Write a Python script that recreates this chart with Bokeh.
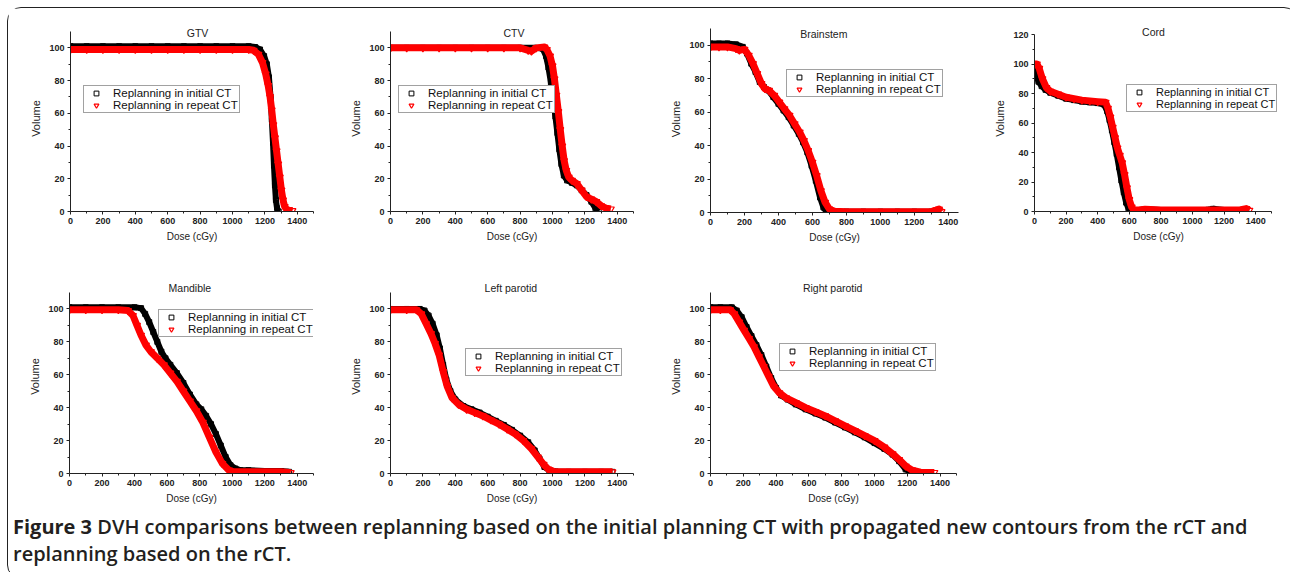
from bokeh.plotting import figure
from bokeh.layouts import row, column
from bokeh.models import (Range1d, FixedTicker, Legend, LegendItem, Label, Div)
from bokeh.embed import file_html
from bokeh.resources import INLINE

# ---------------- data ----------------
series_names = ["Replanning in initial CT", "Replanning in repeat CT"]
x_ticks = [0, 200, 400, 600, 800, 1000, 1200, 1400]

# GTV
gtv_dose_init = [0, 100, 200, 300, 400, 500, 600, 700, 800, 900, 1000, 1100,
                 1140, 1170, 1195, 1212, 1225, 1235, 1243, 1250, 1256, 1262, 1268, 1275, 1285]
gtv_vol_init = [101, 101, 101, 101, 101, 101, 101, 101, 101, 101, 101, 101,
                100.5, 99, 95, 90, 82, 70, 56, 42, 28, 16, 7, 2, 0]
gtv_dose_rep = [0, 100, 200, 300, 400, 500, 600, 700, 800, 900, 1000, 1100,
                1130, 1160, 1185, 1205, 1220, 1232, 1242, 1252, 1262, 1272, 1282, 1292,
                1302, 1312, 1322, 1335, 1350, 1370]
gtv_vol_rep = [99, 99, 99, 99, 99, 99, 99, 99, 99, 99, 99, 99,
               98.5, 96, 91, 84, 77, 70, 62, 53, 45, 37, 29, 21, 13, 7, 3, 1.2, 0.8, 0.5]

# CTV
ctv_dose_init = [0, 100, 200, 300, 400, 500, 600, 700, 800, 900,
                 940, 960, 975, 990, 1005, 1018, 1030, 1042, 1055, 1070, 1090, 1120,
                 1150, 1180, 1210, 1240, 1265, 1285]
ctv_vol_init = [100, 100, 100, 100, 100, 100, 100, 100, 100, 100,
                99.5, 95, 88, 79, 68, 58, 48, 38, 29, 22, 19, 17.5, 16, 13, 10, 6, 2, 0]
ctv_dose_rep = [0, 100, 200, 300, 400, 500, 600, 700, 800,
                850, 870, 900, 950, 965, 985, 1000, 1012, 1024, 1036, 1048, 1060, 1072,
                1085, 1100, 1120, 1150, 1180, 1210, 1240, 1270, 1300, 1330, 1360]
ctv_vol_rep = [100, 100, 100, 100, 100, 100, 100, 100, 100,
               98.5, 98, 100, 100.5, 99, 95, 89, 81, 71, 61, 50, 40, 31, 25, 21, 19, 17,
               13, 9, 7.5, 6, 3.5, 2, 1.5]

# Brainstem
bs_dose_init = [0, 50, 100, 150, 190, 215, 240, 265, 290, 315, 340, 370, 400, 430, 460,
                490, 520, 545, 570, 595, 620, 645, 665, 680, 700, 800, 900, 1000, 1100,
                1200, 1300, 1340]
bs_vol_init = [101, 101, 101, 100.5, 99, 95, 89, 84, 78, 75, 73, 69, 65, 61, 57,
               52, 47, 42, 36, 28, 19, 9, 3, 0.8, 0.5, 0.5, 0.5, 0.5, 0.5, 0.5, 0.5, 1]
bs_dose_rep = [0, 50, 100, 150, 170, 200, 225, 250, 275, 300, 320, 345, 375, 405, 435,
               465, 495, 525, 550, 575, 600, 625, 650, 675, 700, 730, 800, 900, 1000,
               1100, 1200, 1300, 1330, 1345, 1360]
bs_vol_rep = [99, 99, 99, 98, 97, 97.5, 94, 89, 83, 77, 74, 73, 70, 66, 62,
              58, 53, 48, 43, 37, 30, 22, 13, 6, 2, 0.7, 0.5, 0.5, 0.5,
              0.5, 0.5, 0.5, 1.5, 2, 0.5]

# Cord
cord_dose_init = [0, 10, 25, 45, 70, 100, 150, 200, 250, 300, 350, 400, 440, 460, 475,
                  490, 505, 520, 535, 550, 565, 580, 595, 610, 650, 700, 800, 900, 1000,
                  1100, 1130, 1200, 1300, 1340]
cord_vol_init = [100, 93, 88, 85, 82.5, 80.5, 78.5, 76.5, 75.5, 74.5, 74, 73.5, 72.5, 68, 62,
                 55, 47, 39, 30, 21, 13, 6, 2, 0.5, 0.8, 1.5, 1, 1, 1,
                 1.2, 1.8, 1, 1, 1.5]
cord_dose_rep = [0, 15, 30, 50, 75, 100, 150, 200, 250, 300, 350, 400, 450, 465, 480,
                 495, 510, 525, 540, 555, 570, 585, 600, 615, 630, 660, 700, 800, 900,
                 1000, 1100, 1200, 1300, 1340, 1360]
cord_vol_rep = [100, 100, 97, 90, 84, 81.5, 79.5, 77.5, 76.5, 75.5, 75, 74.5, 74, 70, 64,
                57, 50, 43, 38, 33, 25, 16, 8, 3, 1, 1, 1.5, 1, 1,
                1, 1, 1, 1, 2, 0.8]

# Mandible
man_dose_init = [0, 100, 200, 300, 400, 440, 465, 490, 515, 540, 565, 590, 620, 660, 700,
                 740, 780, 810, 840, 870, 900, 930, 960, 990, 1020, 1050, 1100, 1200,
                 1300, 1350]
man_vol_init = [101, 101, 101, 101, 101, 100.5, 97, 92, 86, 80, 74, 70, 66, 61, 55,
                48, 42, 39, 35, 30, 24, 17, 10, 5, 3, 2, 2, 1.5, 1.5, 1]
man_dose_rep = [0, 100, 200, 300, 360, 390, 415, 440, 470, 500, 540, 580, 620, 660, 700,
                740, 780, 820, 860, 900, 940, 980, 1010, 1050, 1100, 1200, 1300, 1360]
man_vol_rep = [99.5, 99.5, 99.5, 99.5, 99, 96, 90, 84, 78, 74, 70, 66, 61, 56, 50,
               44, 38, 31, 22, 13, 6, 2, 1, 1, 1, 1, 1, 0.5]

# Left parotid
lp_dose_init = [0, 100, 180, 210, 235, 260, 285, 305, 325, 345, 370, 400, 450, 500, 550,
                600, 650, 700, 750, 800, 850, 890, 920, 950, 980, 1020, 1100, 1200, 1300, 1370]
lp_vol_init = [100, 100, 100, 99, 96, 91, 84, 76, 66, 57, 50, 45, 41, 39, 37,
               34.5, 32, 29.5, 26.5, 23, 19, 14, 9, 4, 2, 1.2, 1, 1, 1, 1]
lp_dose_rep = [0, 100, 160, 190, 220, 250, 275, 300, 325, 350, 380, 420, 470, 520, 570,
               620, 670, 720, 770, 820, 870, 910, 945, 975, 1010, 1060, 1100, 1200, 1300, 1370]
lp_vol_rep = [99.5, 99.5, 99.5, 97, 91, 85, 79, 72, 62, 53, 46, 42, 39, 37, 35,
              32.5, 30, 27, 24, 20, 15, 10, 5.5, 2.5, 1.2, 1, 1, 1, 1, 1]

# Right parotid
rp_dose_init = [0, 60, 130, 160, 190, 220, 250, 280, 310, 340, 370, 400, 430, 470, 520,
                580, 640, 700, 760, 820, 880, 940, 1000, 1060, 1110, 1150, 1190, 1230, 1280, 1340]
rp_vol_init = [101, 101, 101, 99, 95, 89, 83.5, 78, 72, 65, 58, 52, 47.5, 45, 42,
               39, 36.5, 34, 31, 28, 25, 22, 18.5, 15, 11.5, 7.5, 2.5, 0.8, 0.6, 0.6]
rp_dose_rep = [0, 60, 120, 145, 175, 205, 235, 265, 295, 325, 355, 385, 420, 460, 520,
               580, 640, 700, 760, 820, 880, 940, 1000, 1060, 1110, 1150, 1190, 1230, 1280,
               1340, 1365]
rp_vol_rep = [99.5, 99.5, 99.5, 97, 92, 87, 82, 77, 71, 65, 59, 53, 49, 46, 43,
              40, 37.5, 35, 32, 29, 26, 23, 20, 16, 12, 8.5, 4.5, 2, 0.8, 0.6, 0.6]

# ---------------- styling ----------------
FONT = "Liberation Sans"
BLACK = "#000000"
RED = "#ff0000"


def panel(title, d_init, v_init, d_rep, v_rep, x_end, y_end, y_ticks,
          fw, fh, bl, bt, br, bb, legend_loc, title_xy, ext_t=0, ext_r=0,
          label_w=120, legend_font="11.5px"):
    # the frame is slightly enlarged (ext_t / ext_r pixels) so the title and legend
    # are not clipped; the axes themselves stop at x_end / y_end via bounds
    y_top = y_end + ext_t * y_end / fh
    x_right = x_end + ext_r * x_end / fw
    p = figure(output_backend="svg", toolbar_location=None,
               frame_width=fw + ext_r, frame_height=fh + ext_t,
               min_border_left=bl, min_border_top=bt - ext_t,
               min_border_right=br - ext_r, min_border_bottom=bb,
               x_range=Range1d(0, x_right), y_range=Range1d(0, y_top))
    p.background_fill_color = "white"
    p.border_fill_color = "white"
    p.outline_line_color = None
    p.xgrid.visible = False
    p.ygrid.visible = False

    p.line(d_init, v_init, line_color=BLACK, line_width=6, line_join="round")
    r1 = p.scatter(d_init, v_init, marker="square", size=5, line_color=BLACK,
                   fill_color=None, line_width=1)
    p.line(d_rep, v_rep, line_color=RED, line_width=7, line_join="round")
    r2 = p.scatter(d_rep, v_rep, marker="inverted_triangle", size=7, line_color=RED,
                   fill_color=None, line_width=1.2)

    minor_x = [t + 100 for t in x_ticks]
    p.xaxis.ticker = FixedTicker(ticks=x_ticks, minor_ticks=minor_x)
    step = y_ticks[1] - y_ticks[0]
    p.yaxis.ticker = FixedTicker(ticks=y_ticks,
                                 minor_ticks=[t + step / 2 for t in y_ticks[:-1]])
    p.xaxis.bounds = (0, x_end)
    p.yaxis.bounds = (0, y_end)
    for ax in (p.xaxis[0], p.yaxis[0]):
        ax.axis_line_color = "#222222"
        ax.axis_line_width = 1
        ax.major_tick_line_color = "#222222"
        ax.minor_tick_line_color = "#222222"
        ax.major_tick_out = 3
        ax.major_tick_in = 0
        ax.minor_tick_out = 2
        ax.minor_tick_in = 0
        ax.major_label_standoff = 3
        ax.major_label_text_font = FONT
        ax.major_label_text_font_size = "9px"
        ax.major_label_text_font_style = "bold"
        ax.major_label_text_color = "#222222"
        ax.axis_label_text_font = FONT
        ax.axis_label_text_font_style = "normal"
        ax.axis_label_text_color = "#222222"
        ax.axis_label_standoff = 4
    p.xaxis.axis_label = "Dose (cGy)"
    p.xaxis.axis_label_text_font_size = "10px"
    p.yaxis.axis_label = "Volume"
    p.yaxis.axis_label_text_font_size = "11px"

    legend = Legend(items=[LegendItem(label=series_names[0], renderers=[r1]),
                           LegendItem(label=series_names[1], renderers=[r2])],
                    location=legend_loc, margin=0, padding=1, spacing=0,
                    glyph_width=22, glyph_height=12, label_standoff=6,
                    label_width=label_w, label_height=12,
                    label_text_font=FONT, label_text_font_size=legend_font,
                    label_text_color="#111111",
                    border_line_color="#444444", border_line_width=1,
                    background_fill_color="white", background_fill_alpha=1)
    p.add_layout(legend)

    p.add_layout(Label(x=title_xy[0], y=title_xy[1], text=title,
                       text_align="center", text_baseline="middle",
                       text_font=FONT, text_font_size="10.5px",
                       text_color="#222222"))
    return p


f_gtv = panel("GTV", gtv_dose_init, gtv_vol_init, gtv_dose_rep, gtv_vol_rep,
              1500, 110, [0, 20, 40, 60, 80, 100],
              243, 180, 62, 23, 32, 47, (13, 98), (784, 109.2), ext_t=6)
f_ctv = panel("CTV", ctv_dose_init, ctv_vol_init, ctv_dose_rep, ctv_vol_rep,
              1500, 110, [0, 20, 40, 60, 80, 100],
              243, 180, 45, 23, 32, 47, (8, 98), (762, 109.2), ext_t=6)
f_bs = panel("Brainstem", bs_dose_init, bs_vol_init, bs_dose_rep, bs_vol_rep,
             1460, 110, [0, 20, 40, 60, 80, 100],
             248, 184, 45, 19, 27, 47, (76, 115), (667, 106.8), ext_t=3)
f_cord = panel("Cord", cord_dose_init, cord_vol_init, cord_dose_rep, cord_vol_rep,
               1500, 120, [0, 20, 40, 60, 80, 100, 120],
               237, 177, 49, 26, 11, 47, (92, 99), (753, 121.6), ext_t=9, ext_r=11,
               label_w=112, legend_font="11px")
f_man = panel("Mandible", man_dose_init, man_vol_init, man_dose_rep, man_vol_rep,
              1500, 110, [0, 20, 40, 60, 80, 100],
              244, 181, 61, 34, 32, 35, (89, 136), (740, 113), ext_t=13)
f_lp = panel("Left parotid", lp_dose_init, lp_vol_init, lp_dose_rep, lp_vol_rep,
             1500, 110, [0, 20, 40, 60, 80, 100],
             243, 181, 45, 34, 32, 35, (75, 97), (743, 112.8), ext_t=13)
f_rp = panel("Right parotid", rp_dose_init, rp_vol_init, rp_dose_rep, rp_vol_rep,
             1500, 110, [0, 20, 40, 60, 80, 100],
             246, 181, 45, 34, 29, 35, (69, 102), (745, 112.8), ext_t=13)

caption = Div(
    text='<span style="font-weight:700">Figure 3</span> DVH comparisons between replanning '
         'based on the initial planning CT with propagated new contours from the rCT and'
         '<br>replanning based on the rCT.',
    width=1279, height=60,
    styles={"font-family": "'Open Sans', sans-serif", "font-size": "20px",
            "font-weight": "600", "line-height": "27px", "color": "#231f20",
            "white-space": "nowrap"})

layout = column(row(f_gtv, f_ctv, f_bs, f_cord), row(f_man, f_lp, f_rp), caption,
                styles={"border": "1.5px solid #222222", "border-radius": "14px",
                        "margin-left": "7px", "margin-top": "7px"})

open("out.html", "w").write(file_html(layout, INLINE))
